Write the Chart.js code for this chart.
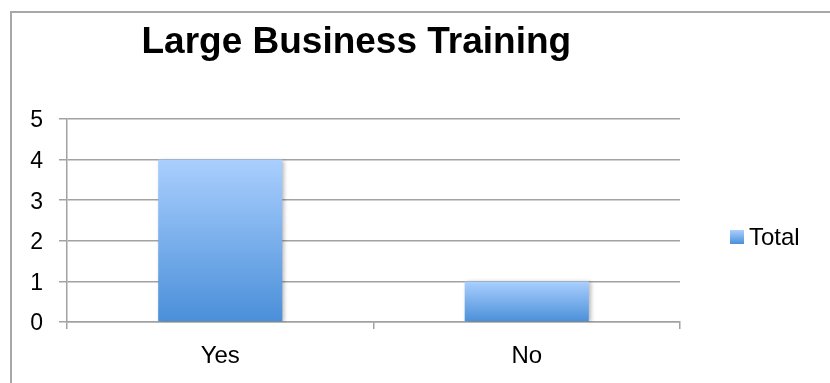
<!DOCTYPE html>
<html>
<head>
<meta charset="utf-8">
<script src="https://cdn.jsdelivr.net/npm/chart.js@4"></script>
<style>
  html, body { margin: 0; padding: 0; background: #fff; }
  #wrap { position: relative; width: 830px; height: 383px; overflow: hidden; }
  #frame {
    position: absolute; left: 10px; top: 11px; width: 900px; height: 500px;
    border-top: 2px solid #a8a8a8; border-left: 2px solid #a8a8a8;
  }
  #chart { position: absolute; left: 0; top: 0; }
</style>
</head>
<body>
<div id="wrap">
  <div id="frame"></div>
  <canvas id="chart" width="830" height="383"></canvas>
</div>
<script>
// datos del gráfico
const chartTitle = 'Large Business Training';
const categories = ['Yes', 'No'];
const seriesLabel = 'Total';
const totals = [4, 1];
const yTicks = [0, 1, 2, 3, 4, 5];

const FONT = '"Liberation Sans", Arial, sans-serif';
const gridColor = '#a2a2a2';

// degradado azul de cada barra (claro arriba, oscuro abajo)
function barGradient(ctx) {
  const chart = ctx.chart;
  const yScale = chart.scales.y;
  if (!yScale || !ctx.parsed) return '#7ab0ec';
  const top = yScale.getPixelForValue(ctx.parsed.y);
  const base = yScale.getPixelForValue(0);
  if (!Number.isFinite(top) || !Number.isFinite(base) || top === base) return '#7ab0ec';
  const g = chart.ctx.createLinearGradient(0, top, 0, base);
  g.addColorStop(0, '#aacffe');
  g.addColorStop(1, '#4a8fd9');
  return g;
}

// título y leyenda dibujados a mano, sombra suave en las barras
const extras = {
  id: 'extras',
  beforeDatasetsDraw(chart) {
    const c = chart.ctx;
    c.save();
    c.shadowColor = 'rgba(0,0,0,0.28)';
    c.shadowBlur = 4;
    c.shadowOffsetX = 2;
    c.shadowOffsetY = 1;
  },
  afterDatasetsDraw(chart) {
    chart.ctx.restore();
  },
  afterDraw(chart) {
    const c = chart.ctx;
    const area = chart.chartArea;
    c.save();
    c.fillStyle = '#000';
    c.font = 'bold 37px ' + FONT;
    c.textAlign = 'center';
    c.textBaseline = 'alphabetic';
    c.fillText(chartTitle, area.left + area.width * 0.472, 53);

    // leyenda
    const lx = area.right + 50;
    const ly = area.top + 118;
    const g = c.createLinearGradient(0, ly - 7, 0, ly + 7);
    g.addColorStop(0, '#aacffe');
    g.addColorStop(1, '#4a8fd9');
    c.fillStyle = g;
    c.fillRect(lx, ly - 7, 14, 14);
    c.fillStyle = '#000';
    c.font = '24px ' + FONT;
    c.textAlign = 'left';
    c.textBaseline = 'middle';
    c.fillText(seriesLabel, lx + 19, ly + 1);
    c.restore();
  }
};

new Chart(document.getElementById('chart').getContext('2d'), {
  type: 'bar',
  data: {
    labels: categories,
    datasets: [{
      label: seriesLabel,
      data: totals,
      backgroundColor: barGradient,
      borderWidth: 0,
      barPercentage: 0.405,
      categoryPercentage: 1.0
    }]
  },
  options: {
    responsive: false,
    animation: false,
    events: [],
    layout: { padding: { left: 0, right: 150, top: 119, bottom: 0 } },
    plugins: {
      legend: { display: false },
      title: { display: false },
      tooltip: { enabled: false }
    },
    scales: {
      x: {
        afterFit(scale) { scale.height = 61; },
        grid: {
          display: true,
          offset: true,
          drawOnChartArea: false,
          drawTicks: true,
          tickLength: 7,
          color: gridColor,
          lineWidth: 1.5
        },
        border: { display: true, color: gridColor, width: 1.5 },
        ticks: {
          color: '#000',
          padding: 13,
          font: { family: FONT, size: 24 }
        }
      },
      y: {
        min: 0,
        max: 5,
        afterFit(scale) { scale.width = 67; },
        afterBuildTicks(scale) {
          scale.ticks = yTicks.map(v => ({ value: v }));
        },
        grid: {
          color: gridColor,
          lineWidth: 1.5,
          drawTicks: true,
          tickLength: 8
        },
        border: { display: true, color: gridColor, width: 1.5 },
        ticks: {
          color: '#000',
          padding: 16,
          labelOffset: 2,
          font: { family: FONT, size: 23 }
        }
      }
    }
  },
  plugins: [extras]
});
</script>
</body>
</html>
